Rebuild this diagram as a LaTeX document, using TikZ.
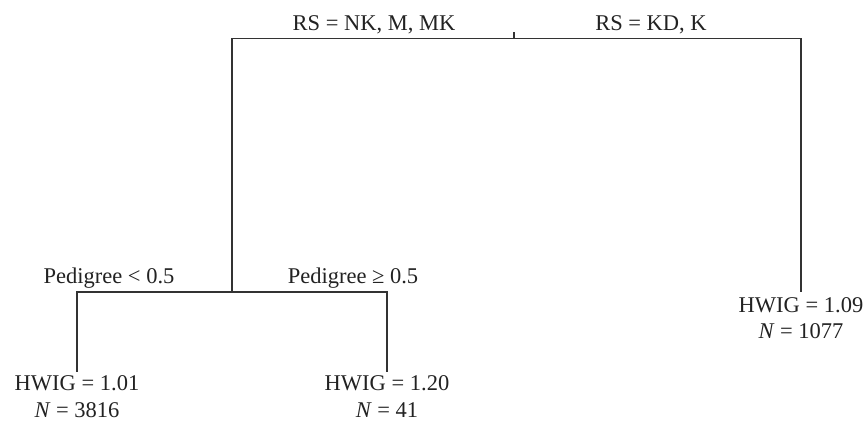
\documentclass[tikz,border=0pt]{standalone}
\usepackage{fontspec}
\setmainfont{Liberation Serif}
\definecolor{ink}{HTML}{222222}
\definecolor{wire}{HTML}{333333}
\begin{document}
\begin{tikzpicture}[x=1pt,y=-1pt,
  edge/.style={draw=wire,line width=1.4pt},
  lbl/.style={font=\fontsize{22.5}{27}\selectfont,inner sep=0pt,text=ink,anchor=base},
  leaf/.style={font=\fontsize{22.5}{26.5}\selectfont,inner sep=0pt,align=center,text=ink,anchor=north}]
\useasboundingbox (0,0) rectangle (868,421);
\coordinate (root) at (514,38.5);
\coordinate (rtop) at (514,32);
\coordinate (tl) at (232,38.5);
\coordinate (tr) at (801,38.5);
\coordinate (split) at (232,292);
\coordinate (bl) at (77,292);
\coordinate (br) at (387,292);
\node[leaf] (l1) at (77,375.5) {HWIG = 1.01\\\textit{N} = 3816};
\node[leaf] (l2) at (387,375.5) {HWIG = 1.20\\\textit{N} = 41};
\node[leaf] (l3) at (801,297) {HWIG = 1.09\\\textit{N} = 1077};
\draw[edge] (rtop) -- (root);
\draw[edge,shorten >=5pt] (split) -- (tl) -- (tr) -- (l3.north);
\draw[edge,shorten >=4pt,shorten <=4pt] (l1.north) -- (bl) -- (br) -- (l2.north);
\node[lbl] (a) at (374,30) {RS = NK, M, MK};
\node[lbl] (b) at (651,30) {RS = KD, K};
\node[lbl] (c) at (109,283) {Pedigree < 0.5};
\node[lbl] (d) at (353,283) {Pedigree ≥ 0.5};
\end{tikzpicture}
\end{document}
